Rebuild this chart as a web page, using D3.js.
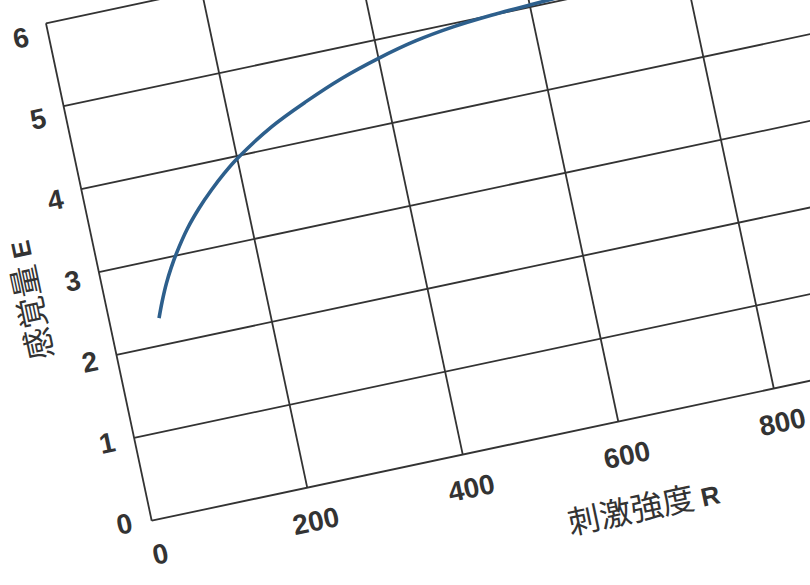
<!DOCTYPE html>
<html>
<head>
<meta charset="utf-8">
<script src="https://cdn.jsdelivr.net/npm/d3@7"></script>
<style>
  html, body { margin: 0; padding: 0; background: #fff; }
  svg { display: block; }
</style>
</head>
<body>
<svg id="chart" width="810" height="585"></svg>
<script>
// ---- data ----
const stimulus = [62, 70, 80, 90, 100, 120, 140, 160, 180, 200, 250, 300, 350, 400, 450, 500, 550, 600, 650, 700];
const sensation = [2.32, 2.50, 2.70, 2.87, 3.02, 3.28, 3.49, 3.67, 3.83, 3.97, 4.25, 4.46, 4.64, 4.78, 4.89, 4.96, 5.00, 5.025, 5.045, 5.065];
const xTicks = [0, 200, 400, 600, 800, 1000];
const xTickLabels = ["0", "200", "400", "600", "800", "1000"];
const yTicks = [0, 1, 2, 3, 4, 5, 6];
const yTickLabels = ["0", "1", "2", "3", "4", "5", "6"];
const xTitleMain = "刺激強度 ";
const xTitleVar = "R";
const yTitleMain = "感覚量 ";
const yTitleVar = "E";

// ---- layout ----
const svg = d3.select("#chart");
svg.append("rect").attr("width", 810).attr("height", 585).attr("fill", "#fff");

const x = d3.scaleLinear().domain([0, 1000]).range([0, 795]);
const y = d3.scaleLinear().domain([0, 6]).range([0, -508.5]);

const g = svg.append("g").attr("transform", "translate(151.7,520.7) rotate(-12)");

const gridColor = "#333";
const textColor = "#333";

// horizontal grid lines
g.selectAll("line.h").data(yTicks).enter().append("line")
  .attr("class", "h")
  .attr("x1", x(0)).attr("x2", x(1000))
  .attr("y1", d => y(d)).attr("y2", d => y(d))
  .attr("stroke", gridColor).attr("stroke-width", 1.8);

// vertical grid lines
g.selectAll("line.v").data(xTicks).enter().append("line")
  .attr("class", "v")
  .attr("x1", d => x(d)).attr("x2", d => x(d))
  .attr("y1", y(0)).attr("y2", y(6))
  .attr("stroke", gridColor).attr("stroke-width", 1.8);

// curve
const pts = stimulus.map((r, i) => [r, sensation[i]]);
const line = d3.line().x(d => x(d[0])).y(d => y(d[1])).curve(d3.curveCatmullRom.alpha(0.5));
g.append("path").datum(pts)
  .attr("d", line)
  .attr("fill", "none")
  .attr("stroke", "#2d5f8c")
  .attr("stroke-width", 3.6)
  .attr("stroke-linecap", "butt");

// x tick labels
g.selectAll("text.xt").data(xTicks).enter().append("text")
  .attr("class", "xt")
  .attr("x", d => x(d) + 1.5)
  .attr("y", 34)
  .attr("dy", "0.36em")
  .attr("text-anchor", "middle")
  .attr("font-family", "'Liberation Sans', Arial, sans-serif")
  .attr("font-weight", "bold")
  .attr("font-size", 28)
  .attr("fill", textColor)
  .text((d, i) => xTickLabels[i]);

// y tick labels
g.selectAll("text.yt").data(yTicks).enter().append("text")
  .attr("class", "yt")
  .attr("x", -27.5)
  .attr("y", d => y(d) * 0.977 - 3)
  .attr("dy", "0.36em")
  .attr("text-anchor", "middle")
  .attr("font-family", "'Liberation Sans', Arial, sans-serif")
  .attr("font-weight", "bold")
  .attr("font-size", 28)
  .attr("fill", textColor)
  .text((d, i) => yTickLabels[i]);

// x axis title
const xt = g.append("text")
  .attr("x", 484).attr("y", 101)
  .attr("text-anchor", "middle")
  .attr("fill", textColor);
xt.append("tspan")
  .attr("font-family", "'Noto Sans CJK JP', 'Noto Sans CJK SC', sans-serif")
  .attr("font-size", 32)
  .text(xTitleMain);
xt.append("tspan")
  .attr("font-family", "'Liberation Sans', Arial, sans-serif")
  .attr("font-weight", "bold")
  .attr("font-size", 26)
  .text(xTitleVar);

// y axis title
const yt = g.append("text")
  .attr("transform", "translate(-62,-240.8) rotate(-90)")
  .attr("text-anchor", "middle")
  .attr("fill", textColor);
yt.append("tspan")
  .attr("font-family", "'Noto Sans CJK JP', 'Noto Sans CJK SC', sans-serif")
  .attr("font-size", 32)
  .text(yTitleMain);
yt.append("tspan")
  .attr("font-family", "'Liberation Sans', Arial, sans-serif")
  .attr("font-weight", "bold")
  .attr("font-size", 26)
  .text(yTitleVar);
</script>
</body>
</html>
